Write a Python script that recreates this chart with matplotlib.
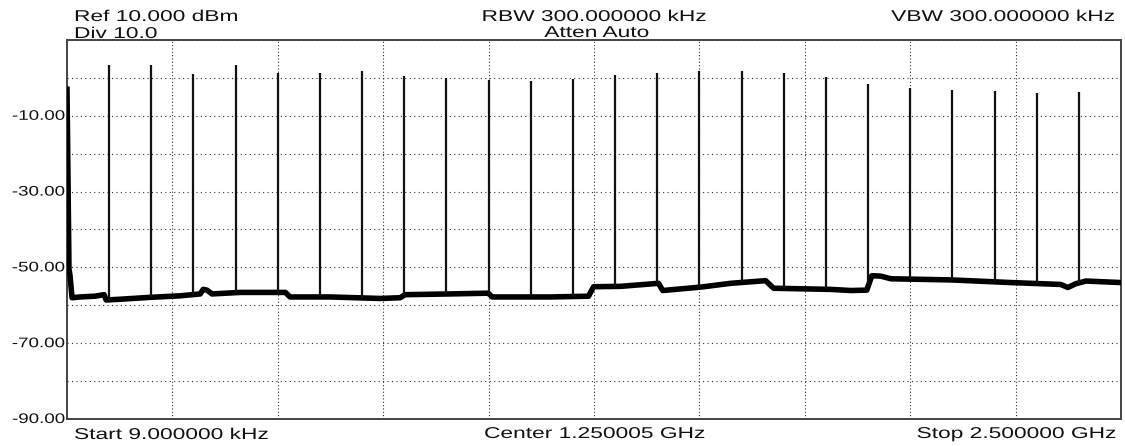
import numpy as np
import matplotlib
matplotlib.use("Agg")
import matplotlib.pyplot as plt
from matplotlib.patheffects import AbstractPathEffect
from matplotlib.transforms import Affine2D

plt.rcParams['font.family'] = ['Liberation Sans', 'DejaVu Sans']

# ---- data ----
# carrier spikes (MHz, peak dBm)
spike_freq_mhz = [100, 200, 300, 400, 500, 600, 700, 800, 900, 1000, 1100, 1200,
                  1300, 1400, 1500, 1600, 1700, 1800, 1900, 2000, 2100, 2200, 2300, 2400]
spike_peak_dbm = [3.4, 3.5, 0.9, 3.4, 1.3, 1.4, 1.8, 0.5, 0.0, -0.5, -0.9, -0.4,
                  0.7, 1.3, 1.9, 1.9, 1.2, 0.2, -1.5, -2.7, -3.3, -3.5, -3.9, -3.7]

# noise-floor trace breakpoints (MHz, dBm)
floor_freq_mhz = [0.009, 4.7, 7, 12, 31, 66, 88, 93, 126, 197, 268, 316, 323, 332, 344,
                  411, 518, 529, 624, 743, 790, 802, 909, 999, 1009, 1147, 1237, 1249,
                  1313, 1403, 1413, 1503, 1574, 1657, 1676, 1811, 1859, 1897, 1909, 1930,
                  1954, 2096, 2239, 2357, 2374, 2393, 2417, 2500]
floor_dbm = [-3.0, -50.5, -52.0, -58.0, -57.8, -57.6, -57.2, -58.6, -58.4, -57.9, -57.5,
             -57.0, -55.8, -56.0, -57.0, -56.6, -56.6, -57.8, -57.8, -58.2, -58.0, -57.2,
             -57.0, -56.8, -57.8, -57.8, -57.6, -55.1, -55.0, -54.2, -56.1, -55.2, -54.2,
             -53.5, -55.5, -55.8, -56.1, -56.0, -52.2, -52.3, -53.0, -53.3, -54.0, -54.5,
             -55.3, -54.3, -53.6, -54.0]

y_ticks = [-10, -30, -50, -70, -90]
header_left = ["Ref 10.000 dBm", "Div 10.0"]
header_mid = ["RBW 300.000000 kHz", "Atten Auto"]
header_right = "VBW 300.000000 kHz"
footer = ["Start 9.000000 kHz", "Center 1.250005 GHz", "Stop 2.500000 GHz"]


class StretchX(AbstractPathEffect):
    """Draw text glyphs stretched horizontally around an anchor x (pixels)."""

    def __init__(self, sx, x0):
        super().__init__()
        self.sx = sx
        self.x0 = x0

    def draw_path(self, renderer, gc, tpath, affine, rgbFace=None):
        t = affine + Affine2D().translate(-self.x0, 0).scale(self.sx, 1).translate(self.x0, 0)
        renderer.draw_path(gc, tpath, t, rgbFace)


# ---- figure ----
W, H = 1125, 446
fig = plt.figure(figsize=(W / 100, H / 100), dpi=100)
L, R, T, B = 67, 1121, 40, 419
ax = fig.add_axes([L / W, 1 - B / H, (R - L) / W, (B - T) / H])

ax.set_xlim(0, 2500)
ax.set_ylim(-90, 10)

# grid
ax.set_xticks(np.linspace(0, 2500, 11))
ax.set_yticks(np.arange(-90, 11, 10))
ax.xaxis.grid(True, color='#333333', linestyle=(0, (1, 2)), linewidth=0.8)
ax.yaxis.grid(True, color='#333333', linestyle=(0, (1, 3)), linewidth=0.8)
ax.tick_params(length=0, labelbottom=False, labelleft=False)

for s in ax.spines.values():
    s.set_color('#444444')
    s.set_linewidth(1.4)

# noise floor
ax.plot(floor_freq_mhz, floor_dbm, color='black', linewidth=4.0, solid_joinstyle='round', zorder=3)
ax.plot(floor_freq_mhz[:4], floor_dbm[:4], color='black', linewidth=2.0, zorder=3)

# spikes
base = np.interp(spike_freq_mhz, floor_freq_mhz, floor_dbm)
ax.vlines(spike_freq_mhz, base, spike_peak_dbm, color='#111111', linewidth=1.6, zorder=3)

SX = 1.45
tick_fs = 10.0
for v in y_ticks:
    ax.text(65 / W, 1 - (B - (v + 90) * (B - T) / 100) / H, f"{v:.2f}", transform=fig.transFigure,
            ha='right', va='center', fontsize=tick_fs, color='#111111',
            path_effects=[StretchX(1.35, 65)])

fs = 11.3


def label(x, y, s, ha):
    fig.text(x / W, 1 - y / H, s, ha=ha, va='baseline', fontsize=fs, color='#111111',
             path_effects=[StretchX(SX, x)])


label(74, 21, header_left[0], 'left')
label(74, 38, header_left[1], 'left')
label(595, 21, header_mid[0], 'center')
label(597, 37, header_mid[1], 'center')
label(1117, 21, header_right, 'right')
label(74, 439, footer[0], 'left')
label(595, 438, footer[1], 'center')
label(1117, 438, footer[2], 'right')

fig.savefig("out.png", dpi=100, facecolor='white')
